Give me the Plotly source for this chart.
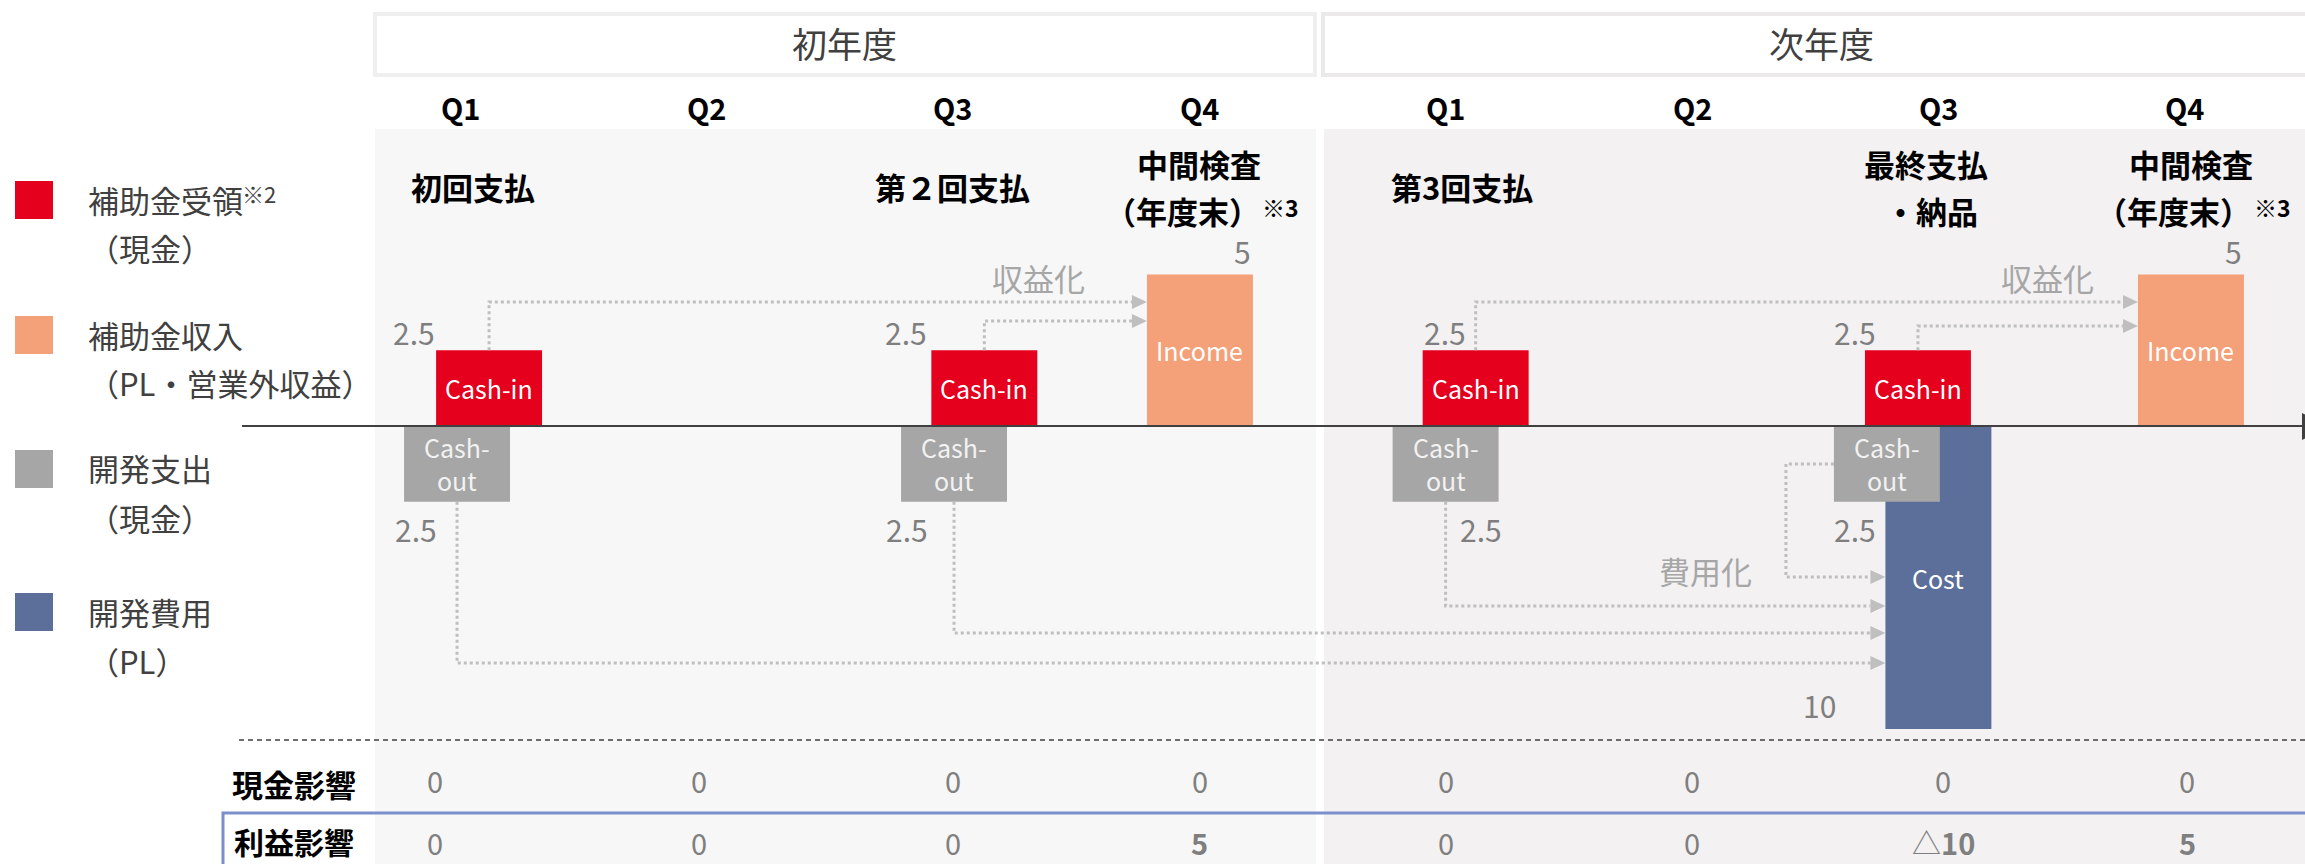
import plotly.graph_objects as go

# ---------------- data ----------------
quarters = ["Q1", "Q2", "Q3", "Q4", "Q1", "Q2", "Q3", "Q4"]
years = ["初年度", "次年度"]
events_line1 = ["初回支払", "", "第２回支払", "中間検査", "第3回支払", "", "最終支払", "中間検査"]
events_line2 = ["", "", "", "（年度末）", "", "", "・納品", "（年度末）"]
events_note = ["", "", "", "※3", "", "", "", "※3"]

cash_in_q = [0, 2, 4, 6]
cash_in = [2.5, 2.5, 2.5, 2.5]
cash_out_q = [0, 2, 4, 6]
cash_out = [2.5, 2.5, 2.5, 2.5]
income_q = [3, 7]
income = [5, 5]
cost_q = [6]
cost = [10]

cash_impact = ["0", "0", "0", "0", "0", "0", "0", "0"]
profit_impact = ["0", "0", "0", "5", "0", "0", "△10", "5"]
row_labels = ["現金影響", "利益影響"]

legend_names = ["補助金受領", "補助金収入", "開発支出", "開発費用"]
legend_subs = ["（現金）", "（PL・営業外収益）", "（現金）", "（PL）"]
legend_notes = ["※2", "", "", ""]
bar_texts = {"in": "Cash-in", "out": "Cash-<br>out", "income": "Income", "cost": "Cost"}
flow_labels = ["収益化", "費用化"]

# ---------------- layout helpers (pixel geometry of the page) ----------------
W, H = 2305, 864
PX0, QW = 460.0, 246.4      # pixel of quarter 0, pixels per quarter
Y0PX, UY = 426.0, 30.3      # baseline pixel, pixels per unit


def X(px):
    return (px - PX0) / QW


def Y(py):
    return (Y0PX - py) / UY


def PXp(px):
    return px / W


def PYp(py):
    return 1 - py / H


FONT = "Noto Sans CJK JP"
RED, SALMON, GRAY, BLUE = "#e5001e", "#f4a079", "#a6a6a6", "#5c6f9a"
DOT = "#bfbfbf"
NUM = "#7f7f7f"

BW = 0.43
cash_in_shift = [0.118, 0.128, 0.122, -0.083]
cash_out_shift = [-0.012, 0.005, 0.0, -0.209]
income_shift = [0.003, 0.025]
cost_shift = [0.0]
row_shift = [-0.1, -0.03, 0.0, 0.003, 0.0, 0.0, 0.02, 0.01]

in_x = [q + s for q, s in zip(cash_in_q, cash_in_shift)]
out_x = [q + s for q, s in zip(cash_out_q, cash_out_shift)]
inc_x = [q + s for q, s in zip(income_q, income_shift)]
cost_x = [q + s for q, s in zip(cost_q, cost_shift)]

fig = go.Figure()


def add_bar(xs, vals, sign, color):
    fig.add_trace(go.Bar(x=xs, y=[sign * v for v in vals], base=0, width=BW,
                         marker=dict(color=color, line=dict(width=0)),
                         hoverinfo="skip"))


add_bar(in_x, cash_in, 1, RED)
add_bar(inc_x, income, 1, SALMON)
add_bar(cost_x, cost, -1, BLUE)
add_bar(out_x, cash_out, -1, GRAY)

shapes = []
ann = []


def text(t, x, y, size, color="#000", bold=False, xanchor="center", yanchor="middle",
         xref="paper", yref="paper"):
    if bold:
        t = "<b>" + t + "</b>"
    ann.append(dict(text=t, x=x, y=y, xref=xref, yref=yref, showarrow=False,
                    xanchor=xanchor, yanchor=yanchor,
                    font=dict(family=FONT, size=size, color=color)))


# background panels
shapes.append(dict(type="rect", xref="paper", yref="paper", x0=PXp(375), x1=PXp(1316),
                   y0=PYp(864), y1=PYp(129), fillcolor="#f7f7f7", line=dict(width=0), layer="below"))
shapes.append(dict(type="rect", xref="paper", yref="paper", x0=PXp(1324), x1=PXp(2305),
                   y0=PYp(864), y1=PYp(129), fillcolor="#f3f1f2", line=dict(width=0), layer="below"))
# year header boxes
shapes.append(dict(type="rect", xref="paper", yref="paper", x0=PXp(375), x1=PXp(1315),
                   y0=PYp(75), y1=PYp(14), fillcolor="white", line=dict(width=4, color="#efefef"), layer="below"))
shapes.append(dict(type="rect", xref="paper", yref="paper", x0=PXp(1323), x1=PXp(2320),
                   y0=PYp(75), y1=PYp(14), fillcolor="white", line=dict(width=4, color="#ebe9ea"), layer="below"))
text(years[0], PXp(844), PYp(43), 35, "#404040")
text(years[1], PXp(1821), PYp(43), 35, "#404040")

# quarter labels & events
ev_dx = [13, 0, 0, 0, 16, 0, -12, 6]
for i, q in enumerate(quarters):
    text(q, i, PYp(107), 29, "#000", bold=True, xref="x")
    cx = PX0 + QW * i + ev_dx[i]
    if events_line2[i]:
        text(events_line1[i], PXp(cx), PYp(163), 31, "#000", bold=True)
        l2x = cx - (17 if events_note[i] else -5)
        text(events_line2[i], PXp(l2x), PYp(210), 31, "#000", bold=True)
        if events_note[i]:
            text(events_note[i], PXp(l2x + 78), PYp(207), 23, "#000", bold=True, xanchor="left")
    elif events_line1[i]:
        text(events_line1[i], PXp(cx), PYp(187), 31, "#000", bold=True)

# baseline with arrow end
shapes.append(dict(type="line", xref="paper", yref="y", x0=PXp(242), x1=PXp(2305), y0=0, y1=0,
                   line=dict(color="#404040", width=2)))
shapes.append(dict(type="path", xref="paper", yref="paper",
                   path=f"M {PXp(2302)},{PYp(413)} L {PXp(2330)},{PYp(426)} L {PXp(2302)},{PYp(440)} Z",
                   fillcolor="#404040", line=dict(width=0)))

# bar inner texts
for x, v in zip(in_x, cash_in):
    text(bar_texts["in"], x, v / 2, 25, "white", xref="x", yref="y")
for x, v in zip(inc_x, income):
    text(bar_texts["income"], x, v / 2, 25, "white", xref="x", yref="y")
for x, v in zip(out_x, cash_out):
    text(bar_texts["out"], x, -v / 2, 25, "#f2f2f2", xref="x", yref="y")
for x, v in zip(cost_x, cost):
    text(bar_texts["cost"], x, -v / 2, 25, "white", xref="x", yref="y")

# value labels
in_lab_px = [414, 906, 1445, 1855]
for px, v in zip(in_lab_px, cash_in):
    text(f"{v:g}", PXp(px), PYp(332), 30, NUM)
out_lab_px = [416, 907, 1481, 1855]
for px, v in zip(out_lab_px, cash_out):
    text(f"{v:g}", PXp(px), PYp(529), 30, NUM)
for x, v in zip(inc_x, income):
    text(f"{v:g}", x + BW / 2, v, 30, NUM, xref="x", yref="y", xanchor="right", yanchor="bottom")
for x, v in zip(cost_x, cost):
    text(f"{v:g}", x - BW / 2 - 47 / QW, -v, 30, NUM, xref="x", yref="y", xanchor="right", yanchor="bottom")

# dotted flow arrows
HEAD_L = 15 / QW
HEAD_H = 7 / UY


def dotted(pts):
    p = "M " + " L ".join(f"{x},{y}" for x, y in pts)
    shapes.append(dict(type="path", xref="x", yref="y", path=p,
                       line=dict(color=DOT, width=3, dash="dot")))


def head(xtip, y):
    p = f"M {xtip - HEAD_L},{y + HEAD_H} L {xtip},{y} L {xtip - HEAD_L},{y - HEAD_H} Z"
    shapes.append(dict(type="path", xref="x", yref="y", path=p, fillcolor=DOT, line=dict(width=0)))


in_target = [0, 0, 1, 1]
in_lane = [Y(302), Y(321), Y(302), Y(326)]
for k, (x, v) in enumerate(zip(in_x, cash_in)):
    tip = inc_x[in_target[k]] - BW / 2
    dotted([(x, v), (x, in_lane[k]), (tip - HEAD_L, in_lane[k])])
    head(tip, in_lane[k])

out_lane = [Y(663), Y(633), Y(606), Y(577)]
cost_tip = cost_x[0] - BW / 2
for k, (x, v) in enumerate(zip(out_x, cash_out)):
    lane = out_lane[k]
    if cash_out_q[k] == cost_q[0]:
        left = x - BW / 2
        side = left - 48 / QW
        dotted([(left, -v / 2), (side, -v / 2), (side, lane), (cost_tip - HEAD_L, lane)])
    else:
        dotted([(x, -v), (x, lane), (cost_tip - HEAD_L, lane)])
    head(cost_tip, lane)

text(flow_labels[0], PXp(1038), PYp(277), 31, "#a6a6a6")
text(flow_labels[0], PXp(2047), PYp(277), 31, "#a6a6a6")
text(flow_labels[1], PXp(1705), PYp(570), 31, "#a6a6a6")

# legend
sq_top = [181, 316, 450, 593]
colors = [RED, SALMON, GRAY, BLUE]
for k in range(4):
    shapes.append(dict(type="rect", xref="paper", yref="paper", x0=PXp(15), x1=PXp(53),
                       y0=PYp(sq_top[k] + 38), y1=PYp(sq_top[k]), fillcolor=colors[k], line=dict(width=0)))
    text(legend_names[k], PXp(86), PYp(sq_top[k] + 18), 31, "#404040", xanchor="left")
    text(legend_subs[k], PXp(86), PYp(sq_top[k] + 67), 31, "#404040", xanchor="left")
    if legend_notes[k]:
        text(legend_notes[k], PXp(240), PYp(sq_top[k] + 12), 22, "#404040", xanchor="left")

# impact rows
shapes.append(dict(type="line", xref="paper", yref="paper", x0=PXp(239), x1=PXp(2305),
                   y0=PYp(740), y1=PYp(740), line=dict(color="#404040", width=1.5, dash="5px,4px")))
shapes.append(dict(type="rect", xref="paper", yref="paper", x0=PXp(223), x1=PXp(2330),
                   y0=PYp(900), y1=PYp(813), line=dict(color="#7b8fcb", width=3)))
text(row_labels[0], PXp(294), PYp(783), 31, "#000", bold=True)
text(row_labels[1], PXp(294), PYp(841), 30, "#000", bold=True)


def fmt(v):
    if v == "0":
        return v
    if v.startswith("△"):
        return "△<b>" + v[1:] + "</b>"
    return "<b>" + v + "</b>"


for i in range(8):
    text(cash_impact[i], i + row_shift[i], PYp(780), 29, NUM, xref="x")
    text(fmt(profit_impact[i]), i + row_shift[i], PYp(842), 29, NUM, xref="x")

fig.update_layout(
    width=W, height=H, margin=dict(l=0, r=0, t=0, b=0, pad=0),
    paper_bgcolor="white", plot_bgcolor="white", showlegend=False, barmode="overlay",
    xaxis=dict(range=[X(0), X(W)], visible=False, fixedrange=True),
    yaxis=dict(range=[Y(H), Y(0)], visible=False, fixedrange=True),
    shapes=shapes, annotations=ann, font=dict(family=FONT),
)

fig.write_html("out.html", config={"displayModeBar": False},
               post_script="document.body.style.margin='0';document.body.style.overflow='hidden';")
